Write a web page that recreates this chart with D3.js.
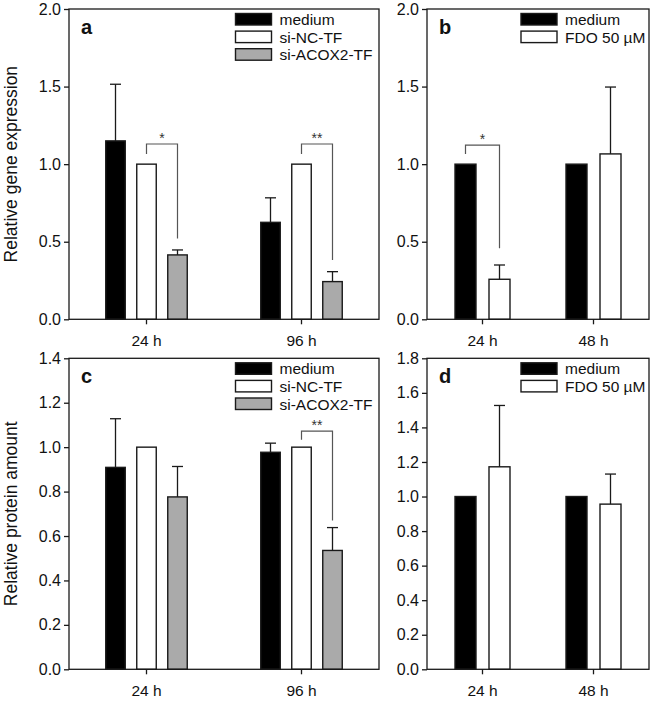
<!DOCTYPE html>
<html><head><meta charset="utf-8">
<script src="https://cdn.jsdelivr.net/npm/d3@7"></script>
<style>
body{margin:0;background:#fff}
svg{display:block}
text{font-family:"Liberation Sans", Arial, sans-serif; fill:#111}
</style>
</head><body>
<svg id="chart" width="651" height="702"></svg>
<script>
// ---------- data ----------
const timesSiRNA = ["24 h", "96 h"];
const timesFDO = ["24 h", "48 h"];
const seriesSiRNA = ["medium", "si-NC-TF", "si-ACOX2-TF"];
const seriesFDO = ["medium", "FDO 50 µM"];
const fillsSiRNA = ["#000000", "#ffffff", "#aaaaaa"];
const fillsFDO = ["#000000", "#ffffff"];

// panel a: gene expression, siRNA
const geneSiRNA = [[1.15, 1.0, 0.415], [0.625, 1.0, 0.243]];
const geneSiRNAErr = [[0.365, null, 0.032], [0.158, null, 0.064]];
// panel b: gene expression, FDO
const geneFDO = [[1.0, 0.258], [1.0, 1.066]];
const geneFDOErr = [[null, 0.092], [null, 0.431]];
// panel c: protein, siRNA
const proteinSiRNA = [[0.909, 1.0, 0.776], [0.977, 1.0, 0.535]];
const proteinSiRNAErr = [[0.219, null, 0.137], [0.041, null, 0.103]];
// panel d: protein, FDO
const proteinFDO = [[1.0, 1.172], [1.0, 0.956]];
const proteinFDOErr = [[null, 0.355], [null, 0.174]];

// y tick labels
const ticksGene = [0.0, 0.5, 1.0, 1.5, 2.0];
const ticksProteinSiRNA = [0.0, 0.2, 0.4, 0.6, 0.8, 1.0, 1.2, 1.4];
const ticksProteinFDO = [0.0, 0.2, 0.4, 0.6, 0.8, 1.0, 1.2, 1.4, 1.6, 1.8];

// significance brackets (group, bar from, bar to, bracket level, leg ends, label)
const sigGeneSiRNA = [
  {group: 0, from: 1, to: 2, top: 1.13, leftEnd: 1.065, rightEnd: 0.52, label: "*"},
  {group: 1, from: 1, to: 2, top: 1.13, leftEnd: 1.065, rightEnd: 0.383, label: "**"}
];
const sigGeneFDO = [
  {group: 0, from: 0, to: 1, top: 1.122, leftEnd: 1.065, rightEnd: 0.458, label: "*"}
];
const sigProteinSiRNA = [
  {group: 1, from: 1, to: 2, top: 1.072, leftEnd: 1.033, rightEnd: 0.67, label: "**"}
];
const sigProteinFDO = [];

// ---------- drawing ----------
const svg = d3.select("#chart");
const INK = "#1a1a1a";

function drawPanel(cfg) {
  const g = svg.append("g");
  const x = d3.scaleBand().domain(cfg.groups).range([cfg.x0, cfg.x1]).padding(0);
  const y = d3.scaleLinear().domain([0, cfg.ymax]).range([cfg.y1, cfg.y0]);
  const n = cfg.series.length;
  const barX = (gi, si) => x(cfg.groups[gi]) + x.bandwidth() / 2 + (si - (n - 1) / 2) * cfg.spacing;

  // bars
  cfg.values.forEach((row, gi) => {
    row.forEach((v, si) => {
      const cx = barX(gi, si);
      g.append("rect")
        .attr("x", cx - cfg.barW / 2)
        .attr("y", y(v))
        .attr("width", cfg.barW)
        .attr("height", y(0) - y(v))
        .attr("fill", cfg.fills[si])
        .attr("stroke", INK)
        .attr("stroke-width", 1.4);
      const e = cfg.errors[gi][si];
      if (e != null) {
        g.append("line").attr("x1", cx).attr("x2", cx)
          .attr("y1", y(v)).attr("y2", y(v + e))
          .attr("stroke", INK).attr("stroke-width", 1.3);
        g.append("line").attr("x1", cx - 5.5).attr("x2", cx + 5.5)
          .attr("y1", y(v + e)).attr("y2", y(v + e))
          .attr("stroke", INK).attr("stroke-width", 1.3);
      }
    });
  });

  // significance brackets
  cfg.sig.forEach(s => {
    const xa = barX(s.group, s.from), xb = barX(s.group, s.to);
    g.append("path")
      .attr("d", `M${xa},${y(s.leftEnd)}V${y(s.top)}H${xb}V${y(s.rightEnd)}`)
      .attr("fill", "none").attr("stroke", "#555").attr("stroke-width", 1.2);
    g.append("text").attr("x", (xa + xb) / 2).attr("y", y(s.top) - 1)
      .attr("text-anchor", "middle").style("font-size", "14px").style("fill", "#333")
      .text(s.label);
  });

  // frame
  g.append("rect").attr("x", cfg.x0).attr("y", cfg.y0)
    .attr("width", cfg.x1 - cfg.x0).attr("height", cfg.y1 - cfg.y0)
    .attr("fill", "none").attr("stroke", INK).attr("stroke-width", 1.3);

  // axes
  const ya = g.append("g").attr("transform", `translate(${cfg.x0},0)`)
    .call(d3.axisLeft(y).tickValues(cfg.ticks).tickFormat(d3.format(".1f")).tickSize(5).tickPadding(3));
  const xa = g.append("g").attr("transform", `translate(0,${cfg.y1})`)
    .call(d3.axisBottom(x).tickSize(5).tickPadding(11));
  [ya, xa].forEach(a => {
    a.select(".domain").remove();
    a.selectAll(".tick line").attr("stroke", INK).attr("stroke-width", 1.3);
    a.selectAll(".tick text").style("font-size", "15.5px").style("font-family", '"Liberation Sans", Arial, sans-serif').attr("fill", "#111");
  });
  ya.selectAll(".tick text").style("font-size", "16px");

  // panel letter
  g.append("text").attr("x", cfg.x0 + 12).attr("y", cfg.y0 + 25)
    .style("font-size", "20px").style("font-weight", "bold").text(cfg.letter);

  // legend
  cfg.series.forEach((name, si) => {
    const ly = cfg.y0 + 4.5 + si * 17.6;
    g.append("rect").attr("x", cfg.legendX).attr("y", ly)
      .attr("width", 36).attr("height", 11.5)
      .attr("fill", cfg.fills[si]).attr("stroke", INK).attr("stroke-width", 1.4);
    g.append("text").attr("x", cfg.legendX + 44).attr("y", ly + 11.5)
      .style("font-size", "15.5px").text(name);
  });

  // y title
  if (cfg.title) {
    g.append("text")
      .attr("transform", `translate(17,${(cfg.y0 + cfg.y1) / 2}) rotate(-90)`)
      .attr("text-anchor", "middle").style("font-size", "17.5px").text(cfg.title);
  }
}

drawPanel({letter: "a", x0: 69, x1: 379, y0: 9, y1: 319.3, ymax: 2.0,
  groups: timesSiRNA, series: seriesSiRNA, fills: fillsSiRNA,
  values: geneSiRNA, errors: geneSiRNAErr, ticks: ticksGene, sig: sigGeneSiRNA,
  barW: 19.5, spacing: 31, legendX: 235.5, title: "Relative gene expression"});
drawPanel({letter: "b", x0: 427, x1: 649, y0: 9, y1: 319.3, ymax: 2.0,
  groups: timesFDO, series: seriesFDO, fills: fillsFDO,
  values: geneFDO, errors: geneFDOErr, ticks: ticksGene, sig: sigGeneFDO,
  barW: 21, spacing: 34, legendX: 521});
drawPanel({letter: "c", x0: 69, x1: 379, y0: 358.3, y1: 669.3, ymax: 1.4,
  groups: timesSiRNA, series: seriesSiRNA, fills: fillsSiRNA,
  values: proteinSiRNA, errors: proteinSiRNAErr, ticks: ticksProteinSiRNA, sig: sigProteinSiRNA,
  barW: 19.5, spacing: 31, legendX: 235.5, title: "Relative protein amount"});
drawPanel({letter: "d", x0: 427, x1: 649, y0: 358.3, y1: 669.3, ymax: 1.8,
  groups: timesFDO, series: seriesFDO, fills: fillsFDO,
  values: proteinFDO, errors: proteinFDOErr, ticks: ticksProteinFDO, sig: sigProteinFDO,
  barW: 21, spacing: 34, legendX: 521});
</script>
</body></html>
